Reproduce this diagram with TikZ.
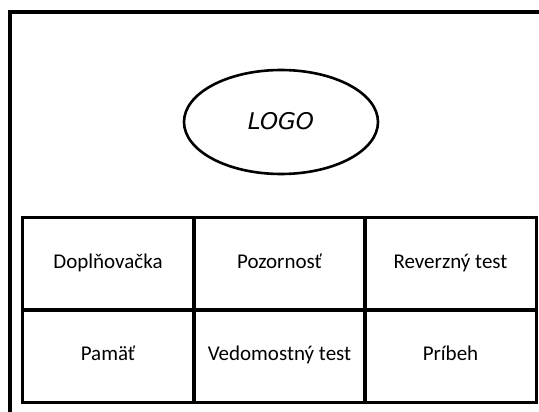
\documentclass[tikz,border=0pt]{standalone}
\usepackage{fontspec}
\setmainfont{Carlito}
\newfontfamily\logofont{DejaVu Sans}
\usetikzlibrary{shapes.geometric}
\tikzset{
    cell/.style={draw, line width=3pt, minimum width=172pt, minimum height=93pt,
        inner sep=0pt, text height=14pt, text depth=5pt,
        font=\fontsize{21}{25}\selectfont},
    logo/.style={draw, ellipse, line width=2.6pt, minimum width=194pt,
        minimum height=104pt, inner sep=0pt, text height=17pt, text depth=3pt,
        font=\logofont\itshape\fontsize{23}{26}\selectfont},
}
\begin{document}
\begin{tikzpicture}[x=1pt,y=-1pt]
    \useasboundingbox[fill=white] (0,0) rectangle (539,412);
    % page frame
    \draw[line width=3.6pt] (10,414) -- (10,12) -- (541,12);
    \node[logo] (logo) at (281,122) {LOGO};
    % menu
    \node[cell] (dopln) at (108,263.5) {Doplňovačka};
    \node[cell] (pozor) at (279.5,263.5) {Pozornosť};
    \node[cell] (revtest) at (450.5,263.5) {Reverzný test};
    \node[cell] (pamat) at (108,356) {Pamäť};
    \node[cell] (vedtest) at (279.5,356) {Vedomostný test};
    \node[cell] (pribeh) at (450.5,356) {Príbeh};
\end{tikzpicture}
\end{document}
